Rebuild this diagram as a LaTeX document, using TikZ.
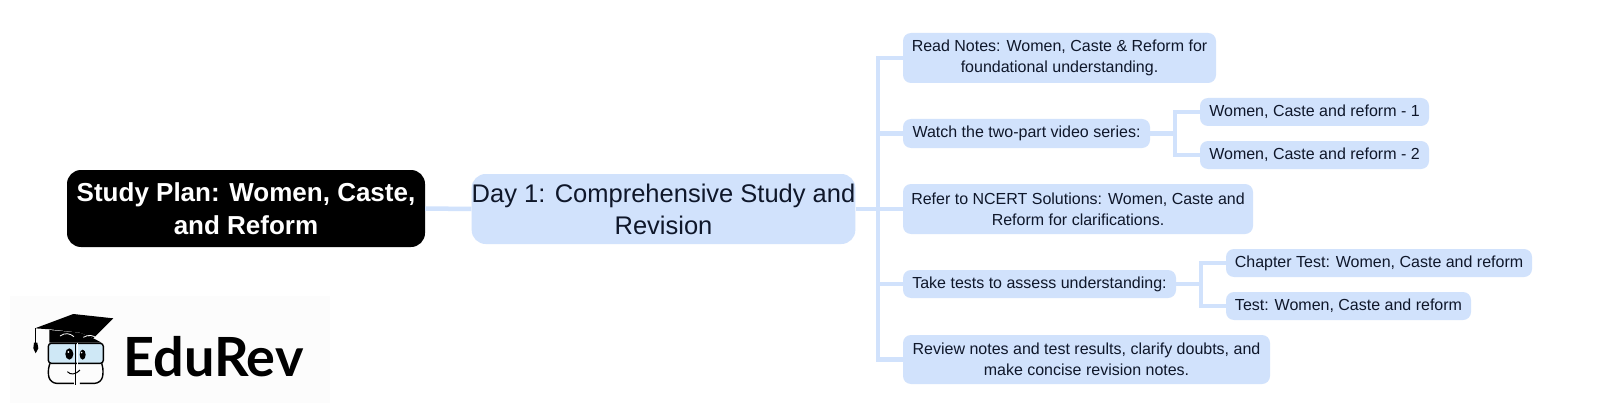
\documentclass[tikz,border=0pt]{standalone}
\usepackage{fontspec}
\setmainfont{Liberation Sans}
\newfontfamily\logofont{Lato}
\definecolor{nodeblue}{HTML}{D1E2FC}
\definecolor{inkdark}{HTML}{0F172A}
\definecolor{lensblue}{HTML}{CFE8F6}
\tikzset{
 basebox/.style={rectangle,inner sep=0pt,align=center},
 rootbox/.style={basebox,fill=black,text=white,rounded corners=14pt,font=\fontsize{26}{33.5}\selectfont\bfseries},
 daybox/.style={basebox,fill=nodeblue,text=inkdark,rounded corners=14pt,font=\fontsize{25.5}{32}\selectfont},
 leafbox/.style={basebox,fill=nodeblue,text=inkdark,rounded corners=8pt,font=\fontsize{16}{21}\selectfont},
 linkline/.style={draw=nodeblue,line width=4.5pt},
}
\begin{document}
\begin{tikzpicture}[x=1pt,y=-1pt]
\useasboundingbox (0,0) rectangle (1600,417);
\fill[white] (0,0) rectangle (1600,417);
\fill[black!1] (10,296) rectangle (330,403);
% connector anchors
\coordinate (railA) at (878,0);
\coordinate (railB) at (1175,0);
\coordinate (railC) at (1201,0);
% nodes
\node[rootbox,minimum width=358pt,minimum height=77pt] (root) at (246,208.5) {Study Plan: Women, Caste,\\and Reform};
\node[daybox,minimum width=379pt,minimum height=70pt] (day) at (663.5,209) {Day 1: Comprehensive Study and\\Revision};
\node[leafbox,minimum width=313pt,minimum height=50pt] (read) at (1059.5,58) {Read Notes: Women, Caste \& Reform for\\foundational understanding.};
\node[leafbox,minimum width=247pt,minimum height=29pt] (watch) at (1026.5,133.5) {Watch the two-part video series:};
\node[leafbox,minimum width=350pt,minimum height=50pt] (refer) at (1078,209) {Refer to NCERT Solutions: Women, Caste and\\Reform for clarifications.};
\node[leafbox,minimum width=273pt,minimum height=28pt] (take) at (1039.5,284) {Take tests to assess understanding:};
\node[leafbox,minimum width=367pt,minimum height=49pt] (review) at (1086.5,359.5) {Review notes and test results, clarify doubts, and\\make concise revision notes.};
\node[leafbox,minimum width=229pt,minimum height=28pt] (wone) at (1314.5,112) {Women, Caste and reform - 1};
\node[leafbox,minimum width=229pt,minimum height=28pt] (wtwo) at (1314.5,155) {Women, Caste and reform - 2};
\node[leafbox,minimum width=306pt,minimum height=28pt] (chap) at (1379,263) {Chapter Test: Women, Caste and reform};
\node[leafbox,minimum width=245pt,minimum height=28pt] (tst) at (1348.5,306) {Test: Women, Caste and reform};
% connectors
\begin{scope}[on background layer/.style={}]
\end{scope}
\draw[linkline] (root.east) -- (day.west);
\draw[linkline] (day.east) -- (refer.west);
\draw[linkline] (read.west) -| (railA |- review.west) -- (review.west);
\draw[linkline] (railA |- watch.west) -- (watch.west);
\draw[linkline] (railA |- take.west) -- (take.west);
\draw[linkline] (watch.east) -- (railB |- watch.east);
\draw[linkline] (wone.west) -| (railB |- wtwo.west) -- (wtwo.west);
\draw[linkline] (take.east) -- (railC |- take.east);
\draw[linkline] (chap.west) -| (railC |- tst.west) -- (tst.west);
% logo
\node[inner sep=0pt,anchor=west,font=\fontsize{54}{54}\selectfont\logofont\bfseries,text=black] (brand) at (123,357) {EduRev};
\begin{scope}[shift={(30,300)},x=0.3333pt,y=-0.3333pt]
 \fill[black] (15,85) -- (130,42) -- (250,55) -- (190,115) -- (150,98) -- (60,88) -- cycle;
 \fill[black] (58,90) -- (150,98) -- (190,115) -- (215,128) -- (58,128) -- cycle;
 \draw[black,line width=1.2pt] (17,85) -- (17,128);
 \fill[black] (12,128) -- (22,128) -- (25,145) -- (17,160) -- (10,145) -- cycle;
 \draw[black,line width=1.4pt,fill=lensblue,rounded corners=3pt] (55,130) rectangle (220,190);
 \draw[white,line width=0.8pt] (90,108) .. controls (105,97) and (120,100) .. (132,110);
 \draw[white,line width=0.8pt] (160,112) .. controls (175,103) and (190,105) .. (200,115);
 \draw[black,line width=1.4pt,rounded corners=6pt] (60,190) -- (52,215) -- (62,250) -- (132,250);
 \draw[black,line width=1.4pt,rounded corners=6pt] (215,190) -- (222,215) -- (212,250) -- (150,250);
 \draw[black,line width=1.4pt] (137,128) -- (137,255);
 \draw[white,line width=0.8pt] (143,128) -- (143,255);
 \fill[black] (118,162) ellipse (12 and 17);
 \fill[black] (158,164) ellipse (9 and 15);
 \fill[white] (115,156) circle (3);
 \fill[white] (155,158) circle (2.5);
 \draw[black,line width=1pt] (112,215) .. controls (122,225) and (135,225) .. (150,210);
\end{scope}
\end{tikzpicture}
\end{document}
